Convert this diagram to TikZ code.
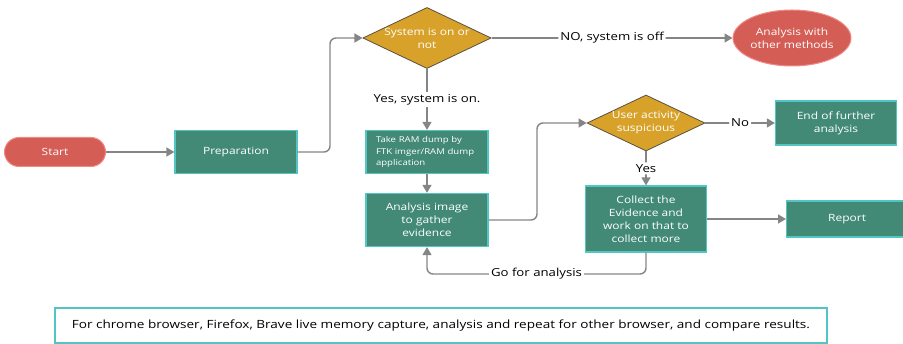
\documentclass[tikz,border=0pt]{standalone}
\usepackage{fontspec}
\setmainfont[FakeStretch=1.2]{Open Sans}
\usetikzlibrary{shapes.geometric,arrows.meta}
\definecolor{teal}{HTML}{428A76}
\definecolor{tealb}{HTML}{52C5C5}
\definecolor{redf}{HTML}{D45D55}
\definecolor{redb}{HTML}{F08A85}
\definecolor{gold}{HTML}{D8A22A}
\definecolor{goldb}{HTML}{5A5040}
\definecolor{conn}{HTML}{858585}
\tikzset{
  box/.style={draw=tealb, fill=teal, line width=1.2pt, text=white, align=center, font=\fontsize{10}{13}\selectfont, inner sep=2pt},
  term/.style={draw=redb, fill=redf, line width=1pt, text=white, align=center, font=\fontsize{10}{13}\selectfont},
  dec/.style={diamond, draw=goldb, fill=gold, line width=0.8pt, text=white, align=center, font=\fontsize{10}{13}\selectfont, inner sep=0pt},
  conn/.style={draw=conn, line width=1.4pt, rounded corners=6pt, -{Triangle[length=8pt,width=9pt]}},
  lbl/.style={fill=white, text=black, font=\fontsize{11}{13}\selectfont, inner sep=2pt},
}
\begin{document}
\begin{tikzpicture}[x=1pt,y=-1pt]
\useasboundingbox (0,0) rectangle (903,344);
\node[term, rounded corners=14.5pt, minimum width=101pt, minimum height=29pt] (start) at (55,152) {Start};
\node[box, minimum width=122pt, minimum height=43pt] (prep) at (236,152) {Preparation};
\node[dec, minimum width=120pt, minimum height=56pt, diamond, aspect=2.1] (sys) at (427,38) {System is on or\\not};
\node[term, ellipse, minimum width=111pt, minimum height=56pt, inner sep=0pt] (other) at (792,38) {Analysis with\\other methods};
\node[box, minimum width=122pt, minimum height=43pt, align=left, font=\fontsize{8}{11.5}\selectfont, text width=102pt] (ram) at (427,152) {Take RAM dump by\\FTK imger/RAM dump\\application};
\node[box, minimum width=122pt, minimum height=53pt] (ana) at (427,220) {Analysis image\\to gather\\evidence};
\node[dec, minimum width=118pt, minimum height=56pt, aspect=2.1] (user) at (646,123) {User activity\\suspicious};
\node[box, minimum width=121pt, minimum height=44pt] (endf) at (836,123) {End of further\\analysis};
\node[box, minimum width=121pt, minimum height=66pt] (coll) at (646,219) {Collect the\\Evidence and\\work on that to\\collect more};
\node[box, minimum width=121pt, minimum height=36pt, anchor=west] (rep) at (786,219) {Report};
\node[draw=tealb, line width=1.2pt, fill=white, minimum width=772pt, minimum height=35pt, font=\fontsize{11.3}{13}\selectfont] (note) at (441,325.5) {For chrome browser, Firefox, Brave live memory capture, analysis and repeat for other browser, and compare results.};

\draw[conn] (start) -- (prep);
\draw[conn] (prep.east) -- (330,152) -- (330,38) -- (sys.west);
\draw[conn] (sys.east) -- node[lbl]{NO, system is off} (other.west);
\draw[conn] (sys.south) -- node[lbl]{Yes, system is on.} (ram.north);
\draw[conn] (ram) -- (ana);
\draw[conn] (ana.east) -- (537,220) -- (537,123) -- (user.west);
\draw[conn] (user.east) -- node[lbl]{No} (endf.west);
\draw[conn] (user.south) -- node[lbl]{Yes} (coll.north);
\draw[conn] (coll.east) -- (rep.west);
\draw[conn] (coll.south) -- (646,274) -- node[lbl,pos=0.5]{Go for analysis} (427,274) -- (ana.south);
\end{tikzpicture}
\end{document}
